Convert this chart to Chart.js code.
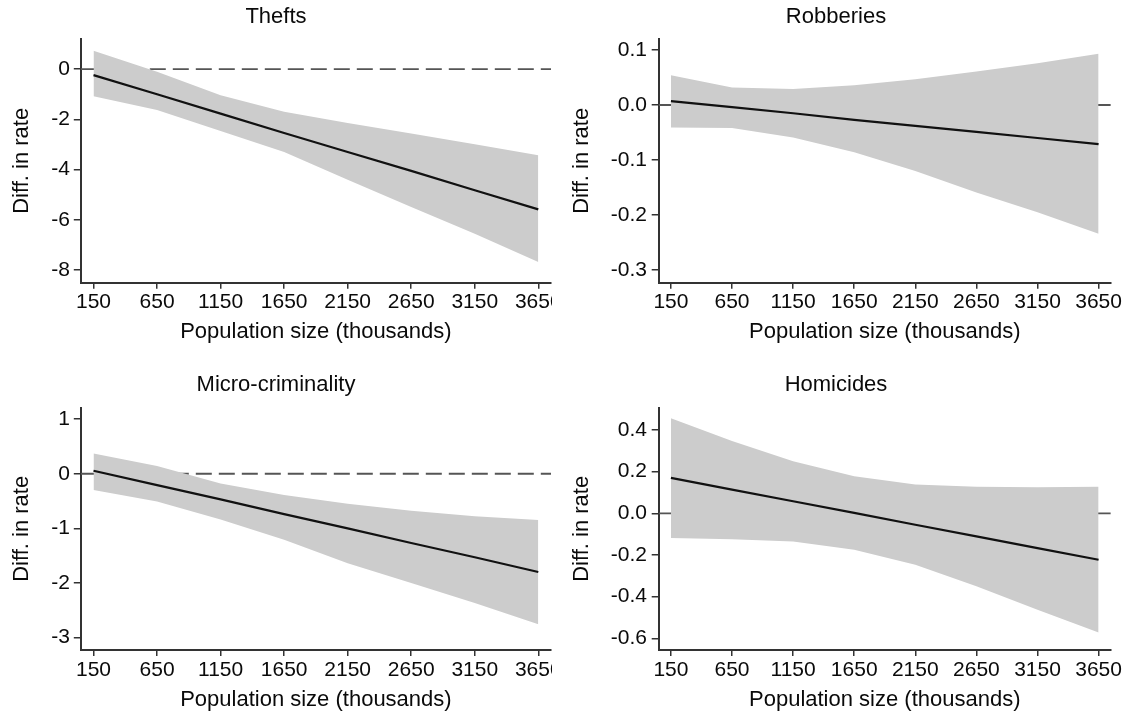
<!DOCTYPE html>
<html>
<head>
<meta charset="utf-8">
<script src="https://cdn.jsdelivr.net/npm/chart.js@4.4.1/dist/chart.umd.min.js"></script>
<style>
  html, body { margin: 0; padding: 0; background: #fff; width: 1126px; height: 718px; overflow: hidden; }
  canvas { position: absolute; }
</style>
</head>
<body>
<canvas id="thefts" width="552" height="355" style="left:0;top:0;width:552px;height:355px"></canvas>
<canvas id="robberies" width="580" height="355" style="left:546px;top:0;width:580px;height:355px"></canvas>
<canvas id="micro" width="552" height="358" style="left:0;top:360px;width:552px;height:358px"></canvas>
<canvas id="homicides" width="580" height="358" style="left:546px;top:360px;width:580px;height:358px"></canvas>
<script>
// x: population size (thousands), shared by all four panels
const popTicks = [150, 650, 1150, 1650, 2150, 2650, 3150, 3650];
const xMin = 50, xMax = 3750;

// Thefts
const theftsFit   = [-0.24, -1.00, -1.77, -2.54, -3.30, -4.05, -4.82, -5.58];
const theftsUpper = [0.73, -0.10, -1.04, -1.70, -2.14, -2.56, -2.99, -3.43];
const theftsLower = [-1.08, -1.63, -2.46, -3.30, -4.40, -5.49, -6.55, -7.68];
const theftsTicks = [-8, -6, -4, -2, 0];

// Robberies
const robFit   = [0.007, -0.004, -0.015, -0.027, -0.038, -0.049, -0.060, -0.071];
const robUpper = [0.054, 0.032, 0.029, 0.036, 0.047, 0.061, 0.076, 0.093];
const robLower = [-0.041, -0.042, -0.059, -0.086, -0.120, -0.159, -0.195, -0.234];
const robTicks = [-0.3, -0.2, -0.1, 0, 0.1];

// Micro-criminality
const microFit   = [0.055, -0.21, -0.47, -0.74, -1.00, -1.27, -1.53, -1.80];
const microUpper = [0.37, 0.14, -0.18, -0.39, -0.55, -0.68, -0.78, -0.85];
const microLower = [-0.30, -0.51, -0.84, -1.21, -1.64, -2.00, -2.37, -2.76];
const microTicks = [-3, -2, -1, 0, 1];

// Homicides
const homFit   = [0.170, 0.114, 0.058, 0.002, -0.055, -0.111, -0.167, -0.223];
const homUpper = [0.456, 0.347, 0.250, 0.178, 0.138, 0.127, 0.125, 0.127];
const homLower = [-0.119, -0.124, -0.135, -0.175, -0.247, -0.350, -0.463, -0.572];
const homTicks = [-0.6, -0.4, -0.2, 0, 0.2, 0.4];

Chart.defaults.font.family = "'Liberation Sans', Arial, sans-serif";
Chart.defaults.color = '#000';

const AXIS = '#333';
const BAND = '#cccccc';
const TEXT = '#0a0a0a';

// pair x values with y values for a linear x scale
const pts = ys => ys.map((y, i) => ({ x: popTicks[i], y }));

// geometry for the two rows / two columns
// (same padding left and right so the panel title stays centred on the canvas)
const rows = {
  top:    { titlePad: { top: 3.8, bottom: 8.8 },  xHeight: 72.3, xTickPad: 1.2, xTitlePad: 9.8 },
  bottom: { titlePad: { top: 11.8, bottom: 9.5 }, xHeight: 68,   xTickPad: 1.4, xTitlePad: 4.8 }
};
const cols = {
  left:  { pad: 1,    yWidth: 79.8, yTickPad: 3.8, yTitlePad: 7.3 },
  right: { pad: 15.2, yWidth: 97.5, yTickPad: 4.7, yTitlePad: 7.4 }
};

function panel(id, title, fit, upper, lower, yMin, yMax, yTicks, decimals, row, col) {
  const ctx = document.getElementById(id).getContext('2d');
  return new Chart(ctx, {
    type: 'line',
    data: {
      datasets: [
        {
          // fitted difference
          data: pts(fit),
          borderColor: '#111',
          borderWidth: 2.2,
          pointRadius: 0,
          fill: false,
          order: 0
        },
        {
          // upper CI bound, filled down to the lower bound
          data: pts(upper),
          borderWidth: 0,
          borderColor: BAND,
          backgroundColor: BAND,
          pointRadius: 0,
          fill: '+1',
          order: 1
        },
        {
          data: pts(lower),
          borderWidth: 0,
          borderColor: BAND,
          pointRadius: 0,
          fill: false,
          order: 2
        },
        {
          // zero reference line, sits under the band
          data: [{ x: xMin, y: 0 }, { x: xMax, y: 0 }],
          borderColor: '#555',
          borderWidth: 1.8,
          borderDash: [16, 7],
          pointRadius: 0,
          fill: false,
          order: 3
        }
      ]
    },
    options: {
      responsive: false,
      animation: false,
      events: [],
      layout: { padding: { left: col.pad, top: 0, right: col.pad, bottom: 0 } },
      plugins: {
        legend: { display: false },
        tooltip: { enabled: false },
        title: {
          display: true,
          text: title,
          color: TEXT,
          font: { size: 22, weight: 'normal' },
          padding: row.titlePad
        }
      },
      scales: {
        x: {
          type: 'linear',
          min: xMin,
          max: xMax,
          afterBuildTicks: s => { s.ticks = popTicks.map(v => ({ value: v })); },
          afterFit: s => { s.height = row.xHeight; s.paddingLeft = 0; s.paddingRight = 0; },
          ticks: {
            autoSkip: false,
            maxRotation: 0,
            padding: row.xTickPad,
            color: TEXT,
            font: { size: 21 },
            callback: v => String(v)
          },
          grid: { display: true, drawOnChartArea: false, drawTicks: true, tickLength: 6, color: AXIS, lineWidth: 1.5 },
          border: { display: true, color: AXIS, width: 2 },
          title: {
            display: true,
            text: 'Population size (thousands)',
            color: TEXT,
            font: { size: 22 },
            padding: { top: 0, bottom: row.xTitlePad }
          }
        },
        y: {
          type: 'linear',
          min: yMin,
          max: yMax,
          afterBuildTicks: s => { s.ticks = yTicks.map(v => ({ value: v })); },
          afterFit: s => { s.width = col.yWidth; s.paddingTop = 0; s.paddingBottom = 0; },
          ticks: {
            autoSkip: false,
            padding: col.yTickPad,
            color: TEXT,
            font: { size: 21 },
            callback: v => Number(v).toFixed(decimals)
          },
          grid: { display: true, drawOnChartArea: false, drawTicks: true, tickLength: 7, color: AXIS, lineWidth: 1.5 },
          border: { display: true, color: AXIS, width: 2 },
          title: {
            display: true,
            text: 'Diff. in rate',
            color: TEXT,
            font: { size: 22 },
            padding: { top: col.yTitlePad, bottom: 0 }
          }
        }
      }
    }
  });
}

panel('thefts', 'Thefts', theftsFit, theftsUpper, theftsLower, -8.5, 1.2, theftsTicks, 0, rows.top, cols.left);
panel('robberies', 'Robberies', robFit, robUpper, robLower, -0.323, 0.12, robTicks, 1, rows.top, cols.right);
panel('micro', 'Micro-criminality', microFit, microUpper, microLower, -3.23, 1.21, microTicks, 0, rows.bottom, cols.left);
panel('homicides', 'Homicides', homFit, homUpper, homLower, -0.656, 0.507, homTicks, 1, rows.bottom, cols.right);
</script>
</body>
</html>
